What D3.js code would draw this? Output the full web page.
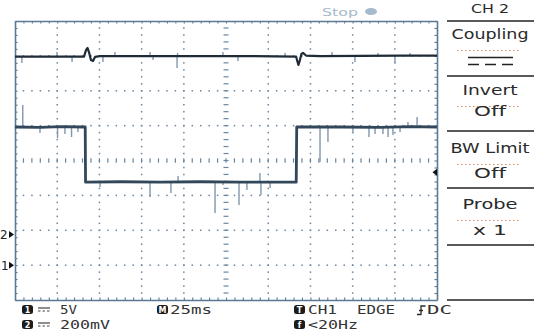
<!DOCTYPE html>
<html><head><meta charset="utf-8">
<script src="https://cdn.jsdelivr.net/npm/d3@7"></script>
<style>html,body{margin:0;padding:0;background:#fff;}svg{display:block;}text{font-variant-ligatures:none;}</style>
</head><body>
<svg id="c" width="534" height="331"></svg>
<script>
// ---- data ----
const timeDomain = [-125, 125];        // ms, 25 ms/div, 10 div
const ch1VoltsPerDiv = 5, ch1OffsetDiv = -3;
const ch2VoltsPerDiv = 0.2, ch2OffsetDiv = -2.12;
const triggerLevel = 13.3;             // V on CH1

const ch1Time = [-125, -110, -98, -84, -83.4, -83.2, -62, -39, -15, 8, 41.6, 41.9, 68, 91, 109, 125];
const ch1Volt = [19.8, 19.75, 19.85, 19.8, 19.8, 11.9, 11.95, 11.9, 11.95, 11.9, 11.9, 19.8, 19.8, 19.75, 19.85, 19.8];
const ch1SpikeTime = [-120.4, -110.2, -99.8, -95.4, -91.5, -87.7, -74.6, -45.0, -32.6, -28.4, -6.5, -1.8, 7.7, 12.4, 20.1, 20.7, 26.1, 55.7, 60.4, 75.2, 84.7, 88.3, 93.0, 96.0, 98.9, 103.1, 107.8, 113.2];
const ch1SpikeVolt = [22.96, 18.94, 18.23, 18.8, 18.37, 19.09, 11.2, 9.77, 10.34, 12.78, 7.47, 11.49, 8.62, 10.77, 13.21, 10.05, 11.06, 14.78, 17.65, 18.94, 18.37, 18.8, 18.8, 18.37, 18.66, 19.09, 20.52, 21.24];

const ch2Time = [-125, -98.3, -84.1, -82.9, -82.0, -81.2, -80.0, -78.8, -77.6, -74.6, -27.3, 14.2, 41.5, 42.4, 42.9, 43.8, 44.7, 45.6, 47.4, 55.7, 103.1, 125];
const ch2Volt = [1.020, 1.020, 1.020, 1.058, 1.069, 1.046, 1.000, 0.995, 1.018, 1.023, 1.023, 1.023, 1.020, 0.989, 0.972, 1.000, 1.035, 1.041, 1.026, 1.023, 1.026, 1.026];
const ch2SpikeTime = [-120.9, -100.1, -91.2, -72.9, -65.8, -45.0, -43.2, -29.0, -28.7, -1.8, 7.1, 35.0, 62.8, 76.4, 90.0, 100.1, 109.0];
const ch2SpikeVolt = [0.983, 1.046, 0.989, 0.989, 1.046, 1.046, 1.000, 0.955, 1.041, 1.046, 0.995, 1.041, 1.046, 0.989, 1.041, 0.983, 1.041];

const menuTitle = "CH 2";
const menuItems = [["Coupling", "DC"], ["Invert", "Off"], ["BW Limit", "Off"], ["Probe", "x 1"]];
const ch1Scale = "5V", ch2Scale = "200mV", timeBase = "25ms";
const trigSource = "CH1", trigType = "EDGE", trigCoupling = "DC", trigFreq = "<20Hz";
const runState = "Stop";

// ---- layout ----
const svg = d3.select("#c");
const L = 15, R = 437, T = 21, B = 300;
const x = d3.scaleLinear().domain(timeDomain).range([L, R]);
const yDiv = d3.scaleLinear().domain([-4, 4]).range([B, T]);
const y1 = v => yDiv(v / ch1VoltsPerDiv + ch1OffsetDiv);
const y2 = v => yDiv(v / ch2VoltsPerDiv + ch2OffsetDiv);

const gridCol = "#6a85a0", borderCol = "#5b7a95";
const g = svg.append("g");

// dotted grid
const majorT = d3.range(1, 10).map(i => timeDomain[0] + 25 * i);
const majorD = d3.range(-3, 4);
const minorT = d3.range(1, 50).map(i => timeDomain[0] + 5 * i);
const minorD = d3.range(1, 40).map(i => -4 + i * 0.2);
majorT.forEach(t => {
  if (t === 0) return;
  g.selectAll(null).data(minorD).enter().append("rect")
    .attr("x", x(t) - 0.7).attr("y", d => yDiv(d) - 0.7).attr("width", 1.5).attr("height", 1.5).attr("fill", gridCol);
});
majorD.forEach(d0 => {
  if (d0 === 0) return;
  g.selectAll(null).data(minorT).enter().append("rect")
    .attr("x", t => x(t) - 0.7).attr("y", yDiv(d0) - 0.7).attr("width", 1.5).attr("height", 1.5).attr("fill", gridCol);
});
// centre cross with minor ticks
g.selectAll(null).data(minorD).enter().append("line")
  .attr("x1", x(0) - 2.5).attr("x2", x(0) + 2.5).attr("y1", d => yDiv(d)).attr("y2", d => yDiv(d))
  .attr("stroke", gridCol).attr("stroke-width", 1.2);
g.selectAll(null).data(minorT).enter().append("line")
  .attr("y1", yDiv(0) - 2.2).attr("y2", yDiv(0) + 2.2).attr("x1", t => x(t)).attr("x2", t => x(t))
  .attr("stroke", gridCol).attr("stroke-width", 1.2);

// border via axes (ticks inward)
const tickT = d3.range(0, 51).map(i => timeDomain[0] + 5 * i);
const tickD = d3.range(0, 41).map(i => -4 + i * 0.2);
function styleAxis(sel) {
  sel.selectAll("text").remove();
  sel.select(".domain").attr("stroke", borderCol).attr("stroke-width", 1.6);
  sel.selectAll(".tick line").attr("stroke", borderCol).attr("stroke-width", 1.1);
}
g.append("g").attr("transform", `translate(0,${B})`).call(d3.axisTop(x).tickValues(tickT).tickSize(2.5).tickSizeOuter(0).tickFormat("")).call(styleAxis);
g.append("g").attr("transform", `translate(0,${T})`).call(d3.axisBottom(x).tickValues(tickT).tickSize(2.5).tickSizeOuter(0).tickFormat("")).call(styleAxis);
g.append("g").attr("transform", `translate(${L},0)`).call(d3.axisRight(yDiv).tickValues(tickD).tickSize(2.5).tickSizeOuter(0).tickFormat("")).call(styleAxis);
g.append("g").attr("transform", `translate(${R},0)`).call(d3.axisLeft(yDiv).tickValues(tickD).tickSize(2.5).tickSizeOuter(0).tickFormat("")).call(styleAxis);

// traces
function levelAt(times, vals, t) {
  const i = Math.max(0, d3.bisectRight(times, t) - 1);
  return vals[i];
}
const spikeCol = "#7f97ad";
g.selectAll(null).data(ch1SpikeTime).enter().append("line")
  .attr("x1", t => x(t)).attr("x2", t => x(t))
  .attr("y1", t => y1(levelAt(ch1Time, ch1Volt, t))).attr("y2", (t, i) => y1(ch1SpikeVolt[i]))
  .attr("stroke", spikeCol).attr("stroke-width", 1.4);
g.selectAll(null).data(ch2SpikeTime).enter().append("line")
  .attr("x1", t => x(t)).attr("x2", t => x(t))
  .attr("y1", t => y2(levelAt(ch2Time, ch2Volt, t))).attr("y2", (t, i) => y2(ch2SpikeVolt[i]))
  .attr("stroke", spikeCol).attr("stroke-width", 1.4);

const line1 = d3.line().x(d => x(d[0])).y(d => y1(d[1]));
const line2 = d3.line().x(d => x(d[0])).y(d => y2(d[1]));
g.append("path").attr("d", line1(ch1Time.map((t, i) => [t, ch1Volt[i]])))
  .attr("fill", "none").attr("stroke", "#32475a").attr("stroke-width", 2.8).attr("stroke-linejoin", "round");
g.append("path").attr("d", line2(ch2Time.map((t, i) => [t, ch2Volt[i]])))
  .attr("fill", "none").attr("stroke", "#1f2b36").attr("stroke-width", 2.2).attr("stroke-linejoin", "round");

// channel ground markers
const mk = [["2", y2(0)], ["1", y1(0)]];
mk.forEach(([lab, yy]) => {
  svg.append("text").attr("x", lab === "1" ? 1 : 0).attr("y", yy + 4.5).text(lab)
    .attr("font-family", "DejaVu Sans").attr("font-size", 12).attr("fill", "#222");
  svg.append("path").attr("d", `M9,${yy - 3.5}L14,${yy}L9,${yy + 3.5}Z`).attr("fill", "#111");
});
// trigger level marker
const ty = y1(triggerLevel);
svg.append("path").attr("d", `M437,${ty - 3.5}L432.5,${ty}L437,${ty + 3.5}Z`).attr("fill", "#111");

// run state
svg.append("text").attr("x", 322).attr("y", 15.5).text(runState).attr("font-family", "DejaVu Sans")
  .attr("font-size", 11).attr("fill", "#a7b9cc").attr("textLength", 36).attr("lengthAdjust", "spacingAndGlyphs");
svg.append("ellipse").attr("cx", 371).attr("cy", 11.5).attr("rx", 6).attr("ry", 3.6).attr("fill", "#a7b9cc");

// menu panel
const mx = 490, menuFont = "DejaVu Sans";
const sepY = [21, 76, 131, 188, 245, 300];
sepY.forEach(yy => svg.append("line").attr("x1", 447).attr("x2", 534).attr("y1", yy).attr("y2", yy)
  .attr("stroke", "#222").attr("stroke-width", 1.5));
svg.append("text").attr("x", mx).attr("y", 12.5).attr("text-anchor", "middle").text(menuTitle)
  .attr("font-family", menuFont).attr("font-size", 13).attr("fill", "#2a2a2a")
  .attr("textLength", 38).attr("lengthAdjust", "spacingAndGlyphs");
const titleBase = [39, 95, 153, 209], valBase = [null, 116, 178, 235];
const titleLen = [77, 55, 79, 55], valLen = [null, 32, 32, 34];
menuItems.forEach(([ti, va], i) => {
  svg.append("text").attr("x", mx).attr("y", titleBase[i]).attr("text-anchor", "middle").text(ti)
    .attr("font-family", menuFont).attr("font-size", 13.5).attr("fill", "#2a2a2a")
    .attr("textLength", titleLen[i]).attr("lengthAdjust", "spacingAndGlyphs");
  svg.append("line").attr("x1", 457).attr("x2", 521).attr("y1", titleBase[i] + 11.5).attr("y2", titleBase[i] + 11.5)
    .attr("stroke", "#d08a66").attr("stroke-width", 1).attr("stroke-dasharray", "1.5,2.5");
  if (va === "DC") {
    svg.append("line").attr("x1", 468).attr("x2", 513).attr("y1", 57.5).attr("y2", 57.5).attr("stroke", "#222").attr("stroke-width", 1.5);
    svg.append("line").attr("x1", 468).attr("x2", 513).attr("y1", 64.5).attr("y2", 64.5).attr("stroke", "#222").attr("stroke-width", 1.5).attr("stroke-dasharray", "11,6");
  } else {
    svg.append("text").attr("x", mx).attr("y", valBase[i]).attr("text-anchor", "middle").text(va)
      .attr("font-family", menuFont).attr("font-size", 13.5).attr("fill", "#2a2a2a")
      .attr("textLength", valLen[i]).attr("lengthAdjust", "spacingAndGlyphs");
  }
});

// status bar
const sf = "DejaVu Sans Mono";
function icon(x0, y0, lab) {
  svg.append("rect").attr("x", x0).attr("y", y0).attr("width", 11).attr("height", 9).attr("rx", 2.5).attr("fill", "#1c1c1c");
  svg.append("text").attr("x", x0 + 5.5).attr("y", y0 + 7.5).attr("text-anchor", "middle").text(lab)
    .attr("font-family", "DejaVu Sans").attr("font-weight", "bold").attr("font-size", 8).attr("fill", "#fff");
}
function dcSym(x0, y0) {
  svg.append("line").attr("x1", x0).attr("x2", x0 + 12).attr("y1", y0).attr("y2", y0).attr("stroke", "#444").attr("stroke-width", 1.2);
  svg.append("line").attr("x1", x0).attr("x2", x0 + 12).attr("y1", y0 + 3).attr("y2", y0 + 3).attr("stroke", "#444").attr("stroke-width", 1.2).attr("stroke-dasharray", "2.5,2");
}
function stxt(x0, y0, s, len) {
  svg.append("text").attr("x", x0).attr("y", y0).text(s).attr("font-family", sf).attr("font-size", 12.5)
    .attr("fill", "#333").attr("textLength", len).attr("lengthAdjust", "spacingAndGlyphs");
}
icon(22, 305, "1"); dcSym(38, 308); stxt(60, 314, ch1Scale, 17);
icon(22, 320, "2"); dcSym(38, 323); stxt(60, 329, ch2Scale, 50);
icon(157, 305, "M"); stxt(170, 314, timeBase, 42);
icon(294, 305, "T"); stxt(308, 314, trigSource, 29); stxt(357, 314, trigType, 38);
svg.append("path").attr("d", "M425.5,306H421V314.5H417M419,310.5H423").attr("fill", "none").attr("stroke", "#2a2a2a").attr("stroke-width", 1.3);
stxt(427, 314, trigCoupling, 25);
icon(294, 320, "f"); stxt(308, 329, trigFreq, 50);
</script>
</body></html>
